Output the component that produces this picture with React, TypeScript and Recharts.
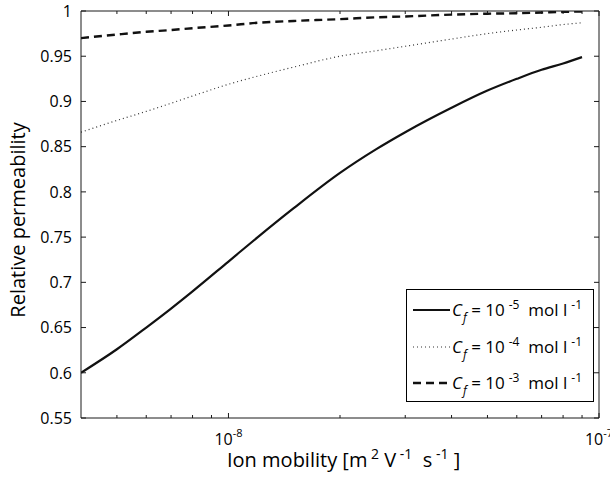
import React from 'react';
import { LineChart, Line, XAxis, YAxis, Legend, Label } from 'recharts';

// Ion mobility [m^2 V^-1 s^-1]
const mobility = [4e-9, 5e-9, 6e-9, 7e-9, 8e-9, 1e-8, 1.2e-8, 1.5e-8, 2e-8, 2.5e-8, 3e-8, 4e-8, 5e-8, 6e-8, 7e-8, 8e-8, 9e-8];
// Relative permeability for the three concentrations
const permCf5 = [0.600, 0.626, 0.650, 0.671, 0.690, 0.723, 0.750, 0.782, 0.821, 0.847, 0.866, 0.893, 0.912, 0.925, 0.935, 0.942, 0.949];
const permCf4 = [0.866, 0.879, 0.889, 0.898, 0.906, 0.919, 0.928, 0.938, 0.950, 0.956, 0.961, 0.969, 0.975, 0.979, 0.982, 0.985, 0.987];
const permCf3 = [0.970, 0.974, 0.977, 0.979, 0.981, 0.984, 0.987, 0.989, 0.991, 0.993, 0.994, 0.996, 0.997, 0.9975, 0.9983, 0.999, 0.9995];

const xTicks = [5e-9, 6e-9, 7e-9, 8e-9, 9e-9, 1e-8, 2e-8, 3e-8, 4e-8, 5e-8, 6e-8, 7e-8, 8e-8, 9e-8, 1e-7];
const xMajor = [1e-8, 1e-7];
const xMajorExp = ['-8', '-7'];
const yTicks = [0.55, 0.6, 0.65, 0.7, 0.75, 0.8, 0.85, 0.9, 0.95, 1];
const yTickLabels = ['0.55', '0.6', '0.65', '0.7', '0.75', '0.8', '0.85', '0.9', '0.95', '1'];
const legendExponents = ['-5', '-4', '-3'];

const data = mobility.map((m, i) => ({ m, cf5: permCf5[i], cf4: permCf4[i], cf3: permCf3[i] }));

const FONT = '"Open Sans", "DejaVu Sans", sans-serif';
const AX = '#1a1a1a';

const majorIndex = (v: number) => xMajor.findIndex((t) => Math.abs(Math.log10(v) - Math.log10(t)) < 1e-6);

const BottomTick = (props: any) => {
  const { x, y, payload } = props;
  const idx = majorIndex(payload.value);
  const major = idx >= 0;
  return (
    <g>
      <line x1={x} x2={x} y1={y} y2={y - (major ? 5 : 3)} stroke={AX} strokeWidth={1} />
      {major && (
        <text x={x} y={y + 27} textAnchor="middle" fontSize={16} fontFamily={FONT} fill="#000">
          10<tspan dy={-8} fontSize={11}>{xMajorExp[idx]}</tspan>
        </text>
      )}
    </g>
  );
};

const TopTick = (props: any) => {
  const { x, y, payload } = props;
  const major = majorIndex(payload.value) >= 0;
  return <line x1={x} x2={x} y1={y} y2={y + (major ? 5 : 3)} stroke={AX} strokeWidth={1} />;
};

const LeftTick = (props: any) => {
  const { x, y, payload } = props;
  const idx = yTicks.findIndex((t) => Math.abs(t - payload.value) < 1e-9);
  return (
    <g>
      <line x1={x} x2={x + 5} y1={y} y2={y} stroke={AX} strokeWidth={1} />
      <text x={x - 9} y={y} dy="0.36em" textAnchor="end" fontSize={16} fontFamily={FONT} fill="#000">
        {yTickLabels[idx]}
      </text>
    </g>
  );
};

const RightTick = (props: any) => {
  const { x, y } = props;
  return <line x1={x} x2={x - 5} y1={y} y2={y} stroke={AX} strokeWidth={1} />;
};

const XLabel = (props: any) => {
  const vb = props.viewBox || { x: 81, y: 418, width: 518 };
  return (
    <text x={vb.x + 146} y={vb.y + 49} textAnchor="start" fontSize={20} fontFamily={FONT} fill="#000" xmlSpace="preserve">
      Ion mobility [m<tspan dy={-8} fontSize={14}>{'\u00a02'}</tspan>
      <tspan dy={8}> V</tspan>
      <tspan dy={-8} fontSize={14}>{'\u00a0-1'}</tspan>
      <tspan dy={8}>{'\u00a0\u00a0s'}</tspan>
      <tspan dy={-8} fontSize={14}>{'\u00a0-1'}</tspan>
      <tspan dy={8}> ]</tspan>
    </text>
  );
};

const YLabel = () => {
  const cx = 25;
  const cy = 220;
  return (
    <text x={cx} y={cy} transform={`rotate(-90, ${cx}, ${cy})`} textAnchor="middle" fontSize={20} fontFamily={FONT} fill="#000">
      Relative permeability
    </text>
  );
};

const lineStyles = [
  { width: 2.2, dash: undefined as string | undefined, color: '#111' },
  { width: 1.2, dash: '1 3', color: '#333' },
  { width: 2.4, dash: '8 5', color: '#111' },
];

const supStyle = { fontSize: 12, position: 'relative' as const, top: -7, marginLeft: 4 };

const LegendBox = () => (
  <div
    style={{
      position: 'relative',
      width: 188,
      height: 113,
      border: '1px solid #000',
      background: '#fff',
      boxSizing: 'border-box',
      fontFamily: FONT,
      fontSize: 17,
      color: '#000',
    }}
  >
    {legendExponents.map((e, i) => {
      const st = lineStyles[i];
      const cy = 20 + i * 36.5;
      return (
        <div key={e} style={{ position: 'absolute', left: 0, top: cy - 14, height: 28, width: 186, whiteSpace: 'nowrap' }}>
          <svg width={40} height={28} style={{ position: 'absolute', left: 6, top: 0 }}>
            <line x1={0} x2={37} y1={14} y2={14} stroke={st.color} strokeWidth={st.width} strokeDasharray={st.dash} />
          </svg>
          <span style={{ position: 'absolute', left: 45, top: 2, lineHeight: '24px' }}>
            <i>C</i>
            <i style={{ fontSize: 12, position: 'relative', top: 6, marginLeft: 1 }}>f</i>
            {' = 10'}
            <span style={supStyle}>{e}</span>
            {'\u00a0\u00a0mol l'}
            <span style={supStyle}>-1</span>
          </span>
        </div>
      );
    })}
  </div>
);

export default function App() {
  return (
    <div style={{ position: 'absolute', left: 0, top: 0, width: 610, height: 483, background: '#fff' }}>
      <LineChart width={610} height={483} data={data} margin={{ top: 10, right: 10, bottom: 0, left: 0 }}>
        <XAxis
          dataKey="m"
          type="number"
          scale="log"
          domain={[4e-9, 1e-7]}
          allowDataOverflow
          ticks={xTicks}
          interval={0}
          height={65}
          tickSize={0}
          tickMargin={0}
          tickLine={false}
          axisLine={{ stroke: AX, strokeWidth: 1 }}
          tick={(p: any) => <BottomTick {...p} />}
        >
          <Label content={(p: any) => <XLabel {...p} />} />
        </XAxis>
        <XAxis
          xAxisId="top"
          dataKey="m"
          orientation="top"
          type="number"
          scale="log"
          domain={[4e-9, 1e-7]}
          allowDataOverflow
          ticks={xTicks}
          interval={0}
          height={1}
          tickSize={0}
          tickMargin={0}
          tickLine={false}
          axisLine={{ stroke: AX, strokeWidth: 1 }}
          tick={(p: any) => <TopTick {...p} />}
        />
        <YAxis
          type="number"
          domain={[0.55, 1]}
          allowDataOverflow
          ticks={yTicks}
          interval={0}
          width={81}
          tickSize={0}
          tickMargin={0}
          tickLine={false}
          axisLine={{ stroke: AX, strokeWidth: 1 }}
          tick={(p: any) => <LeftTick {...p} />}
        >
          <Label content={() => <YLabel />} />
        </YAxis>
        <YAxis
          yAxisId="right"
          orientation="right"
          type="number"
          domain={[0.55, 1]}
          allowDataOverflow
          ticks={yTicks}
          interval={0}
          width={1}
          tickSize={0}
          tickMargin={0}
          tickLine={false}
          axisLine={{ stroke: AX, strokeWidth: 1 }}
          tick={(p: any) => <RightTick {...p} />}
        />
        <Line dataKey="cf5" type="monotone" stroke={lineStyles[0].color} strokeWidth={lineStyles[0].width} dot={false} activeDot={false} isAnimationActive={false} />
        <Line dataKey="cf4" type="monotone" stroke={lineStyles[1].color} strokeWidth={lineStyles[1].width} strokeDasharray={lineStyles[1].dash} dot={false} activeDot={false} isAnimationActive={false} />
        <Line dataKey="cf3" type="monotone" stroke={lineStyles[2].color} strokeWidth={lineStyles[2].width} strokeDasharray={lineStyles[2].dash} dot={false} activeDot={false} isAnimationActive={false} />
        <Legend
          layout="vertical"
          align="center"
          verticalAlign="middle"
          content={() => <LegendBox />}
          wrapperStyle={{ position: 'absolute', left: 406, top: 289, width: 188, height: 113 }}
        />
      </LineChart>
    </div>
  );
}
